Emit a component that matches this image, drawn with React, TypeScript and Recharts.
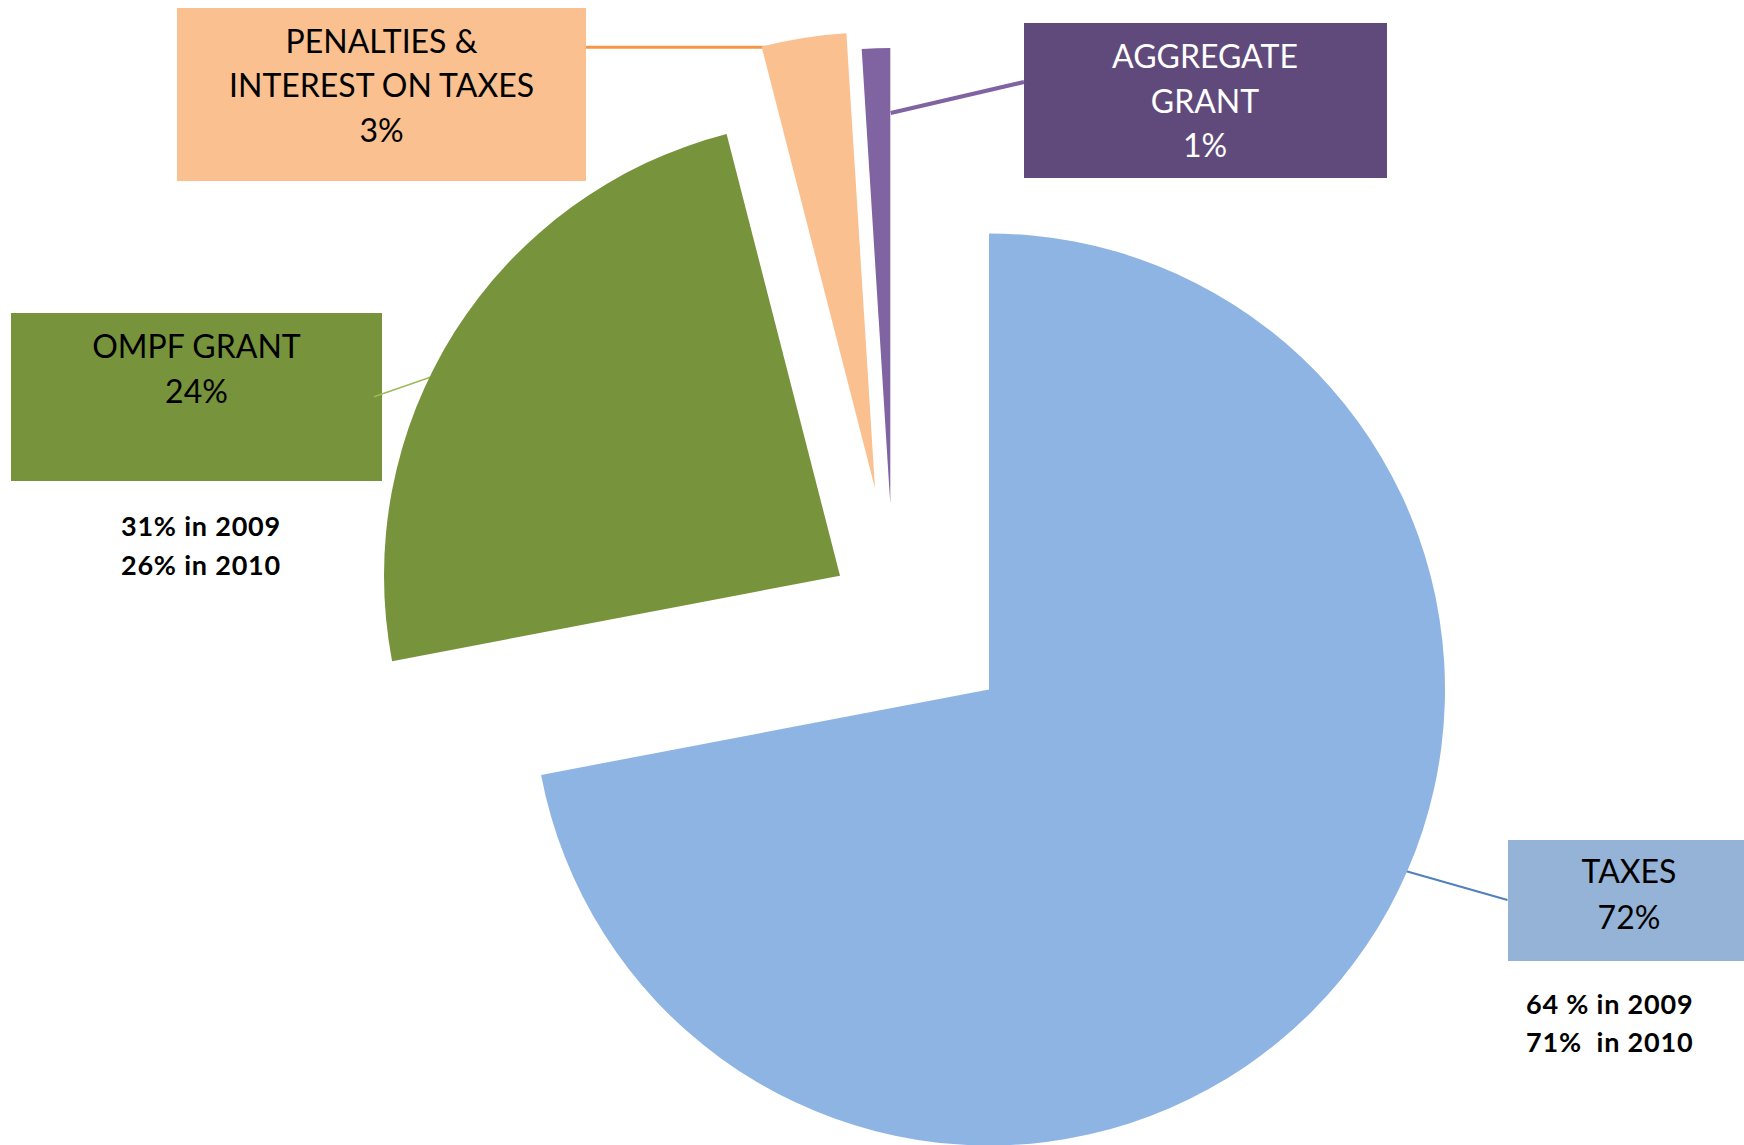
import { PieChart, Pie, Cell, Customized } from 'recharts';

// revenue split (percent of total)
const categories = ['TAXES', 'OMPF GRANT', 'PENALTIES & INTEREST ON TAXES', 'AGGREGATE GRANT'];
const shares = [72, 24, 3, 1];
const boxLines = [['TAXES'], ['OMPF GRANT'], ['PENALTIES &', 'INTEREST ON TAXES'], ['AGGREGATE', 'GRANT']];
const taxesHistory = ['64 % in 2009', '71%  in 2010'];
const ompfHistory = ['31% in 2009', '26% in 2010'];

const data = categories.map((name, i) => ({ name, value: shares[i] }));

const sliceColors = ['#8EB4E3', '#77933C', '#FAC090', '#8064A2'];

// where each exploded slice has its tip
const centers = [
    { cx: 989, cy: 689.5 },
    { cx: 840, cy: 575.7 },
    { cx: 875, cy: 488.3 },
    { cx: 890.3, cy: 504 },
];

const FONT = 'Lato, "Open Sans", sans-serif';

// label boxes: rect, text colour, baselines
const boxes = [
    { x: 1508, y: 840, w: 250, h: 121, fill: '#95B3D7', color: '#000', tx: 1629, base: [883.3, 929] },
    { x: 11, y: 313, w: 371, h: 168, fill: '#77933C', color: '#000', tx: 196.5, base: [358.3, 402.7] },
    { x: 177, y: 8, w: 409, h: 173, fill: '#FAC090', color: '#000', tx: 381.5, base: [53, 97, 142] },
    { x: 1024, y: 23, w: 363, h: 155, fill: '#604A7B', color: '#fff', tx: 1205, base: [67.7, 112.7, 156.7] },
];

const leaders = [
    { x1: 1402, y1: 870, x2: 1507.5, y2: 900, stroke: '#4F81BD', w: 2 },
    { x1: 374, y1: 396.7, x2: 449, y2: 370.7, stroke: '#9BBB59', w: 1.5 },
    { x1: 586, y1: 47.3, x2: 796.7, y2: 47.3, stroke: '#F79646', w: 3 },
    { x1: 890.7, y1: 113, x2: 1024, y2: 82, stroke: '#8064A2', w: 4 },
];

function Annotations() {
    return (
        <g>
            {boxes.map((b, i) => (
                <g key={'box' + i}>
                    <rect x={b.x} y={b.y} width={b.w} height={b.h} fill={b.fill} />
                    {[...boxLines[i], shares[i] + '%'].map((t, j) => (
                        <text key={j} x={b.tx} y={b.base[j]} textAnchor="middle" fill={b.color}
                            fontFamily={FONT} fontSize={32}>
                            {t}
                        </text>
                    ))}
                </g>
            ))}
            {leaders.map((l, i) => (
                <line key={'ld' + i} x1={l.x1} y1={l.y1} x2={l.x2} y2={l.y2} stroke={l.stroke} strokeWidth={l.w} />
            ))}
            {/* earlier years */}
            {ompfHistory.map((t, j) => (
                <text key={'o' + j} x={201} y={[535.7, 575][j]} textAnchor="middle" fontFamily={FONT}
                    fontWeight="bold" fontSize={27} letterSpacing={0.8} fill="#000" style={{ whiteSpace: 'pre' }}>
                    {t}
                </text>
            ))}
            {taxesHistory.map((t, j) => (
                <text key={'t' + j} x={1526} y={[1014, 1052][j]} textAnchor="start" fontFamily={FONT}
                    fontWeight="bold" fontSize={27} letterSpacing={0.8} fill="#000" style={{ whiteSpace: 'pre' }}>
                    {t}
                </text>
            ))}
        </g>
    );
}

export default function App() {
    return (
        <div style={{ position: 'absolute', left: 0, top: 0, width: 1744, height: 1145, background: '#fff' }}>
            <PieChart width={1744} height={1145} margin={{ top: 0, right: 0, bottom: 0, left: 0 }}>
                {centers.map((c, k) => (
                    <Pie
                        key={k}
                        data={data}
                        dataKey="value"
                        nameKey="name"
                        cx={c.cx}
                        cy={c.cy}
                        innerRadius={0}
                        outerRadius={456}
                        startAngle={90}
                        endAngle={-270}
                        stroke="none"
                        isAnimationActive={false}
                    >
                        {data.map((d, i) => (
                            <Cell key={d.name} fill={i === k ? sliceColors[i] : 'none'} stroke="none" />
                        ))}
                    </Pie>
                ))}
                <Customized component={Annotations} />
            </PieChart>
        </div>
    );
}
